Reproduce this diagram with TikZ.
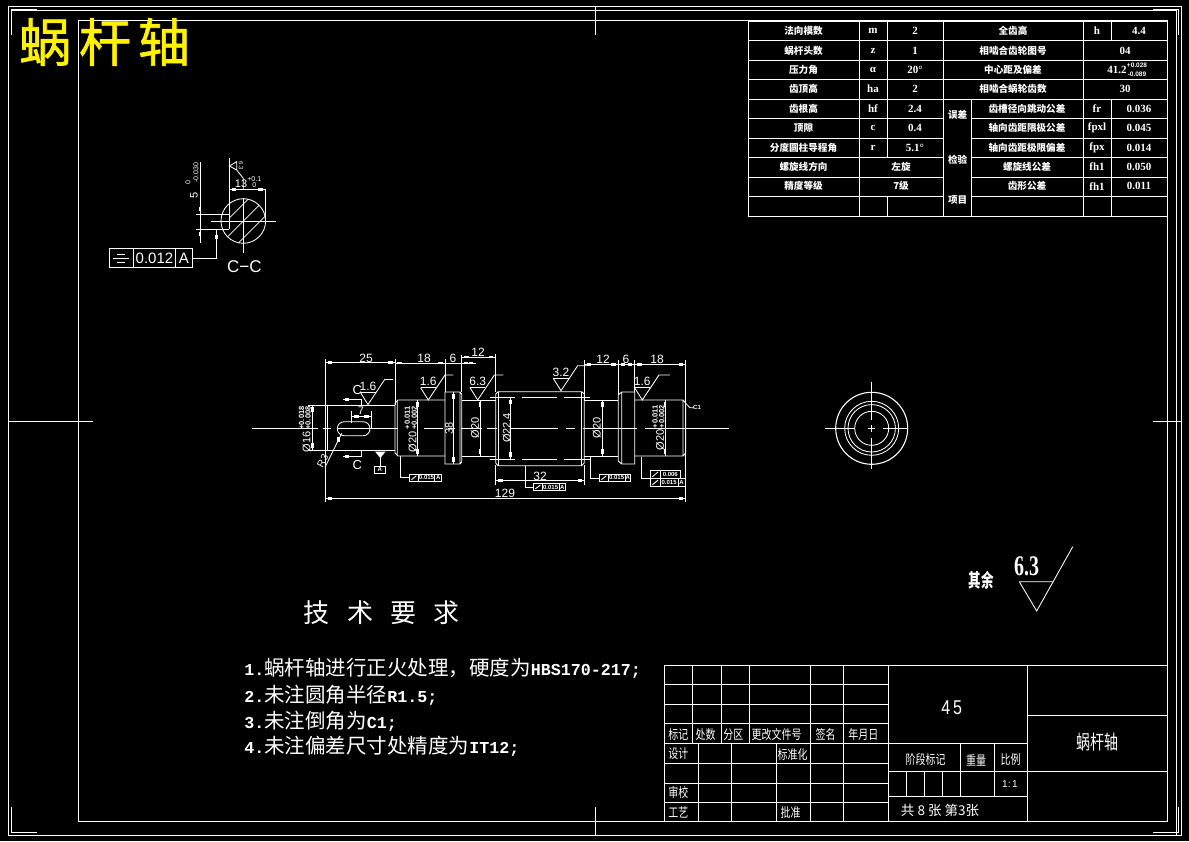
\documentclass[tikz,border=0pt]{standalone}
\usepackage{fontspec}
\usepackage{graphicx}
\setmainfont{Liberation Sans}
\newfontfamily\cj{Noto Sans CJK SC}
\newfontfamily\cjt[FakeBold=1.2]{Noto Sans CJK SC}
\newfontfamily\mono{Liberation Mono}
\newfontfamily\ser{Liberation Serif}
\newcount\tcnt
\newcommand\fs[1]{\fontsize{#1}{#1}\selectfont}
\newcommand\TX[4][]{\global\advance\tcnt by 1\relax\node[tx,#1] (t\the\tcnt) at (#2,#3) {#4};}
% table text, bold and small
\newcommand\TB[3]{\TX{#1}{#2}{\cj\bfseries\fs{9.6}#3}}
\newcommand\TL[3]{\TX{#1}{#2}{\ser\bfseries\fs{11}#3}}
% title block text, tall and narrow
\newcommand\TS[3]{\TX{#1}{#2}{\scalebox{1}[1.3]{\cj\fs{10}#3}}}
% horizontal and vertical dimension lines
\newcommand\Tk[2]{\fill[white] (#1-2.3,#2-1.3) rectangle (#1+2.3,#2+1.3);}
\newcommand\Tv[2]{\fill[white] (#1-1.3,#2-2.3) rectangle (#1+1.3,#2+2.3);}
\newcommand\DimH[3]{\draw[ln] (#1,#3) -- (#2,#3); \Tk{#1+4.7}{#3}\Tk{#2-4.7}{#3}}
\newcommand\DimV[3]{\draw[ln] (#1,#2) -- (#1,#3); \Tv{#1}{#2+4.7}\Tv{#1}{#3-4.7}}
% roughness symbol: apex x, apex y, text, flat length
\newcommand\Rgh[4]{\draw[ln] (#1-7.7,#2-12.3) -- (#1,#2) -- (#1+16.7,#2-25) -- ++(#4,0);
  \draw[ln] (#1-7.7,#2-12.3) -- (#1+7.7,#2-12.3);
  \TX{#1}{#2-18.6}{\fs{12}#3}}
% tolerance frame: x1,x2,y1,y2,cell1,cell2,value,datum
\newcommand\Fr[8]{\draw[ln] (#1,#3) rectangle (#2,#4) (#5,#3) -- (#5,#4);
  \draw[ln,line width=0.9pt] (#1+2,#4-1.5) -- (#5-2,#3+1.5);
  \TX{{(#5+#6)/2}}{{(#3+#4)/2}}{\bfseries\fs{6}#7}
  \draw[ln] (#6,#3) -- (#6,#4);
  \TX{{(#6+#2)/2}}{{(#3+#4)/2}}{\bfseries\fs{6}#8}}
\tikzset{tx/.style={inner sep=0pt,outer sep=0pt,text=white,anchor=center},
  ln/.style={draw=white,line width=0.85pt}}
\begin{document}
\begin{tikzpicture}[x=1pt,y=-1pt]
\fill[black] (0,0) rectangle (1189,841);
\useasboundingbox (0,0) rectangle (1189,841);
% frames
\draw[ln] (8.3,6) rectangle (1181.7,835.3);
\draw[ln] (11,10.3) -- (1176.3,10.3) -- (1176.3,835.3);
\draw[ln] (78.8,20.5) rectangle (1167.5,821.5);
\draw[ln] (595,6) -- (595,35) (595,807) -- (595,835.3) (8.3,421) -- (93,421) (1153,421) -- (1181.7,421);
\draw[ln] (11,35) -- (11,9.3) -- (37,9.3) (1153,9.3) -- (1178.7,9.3) -- (1178.7,35)
  (11,807) -- (11,832.3) -- (37,832.3) (1153,832.3) -- (1178.7,832.3) -- (1178.7,807);
% title
\TX{45}{42}{\cjt\fs{52}\textcolor{yellow}{蜗}}
\TX{105}{42}{\cjt\fs{52}\textcolor{yellow}{杆}}
\TX{164}{42}{\cjt\fs{52}\textcolor{yellow}{轴}}
% upper-right table
\draw[ln] (748.3,21) rectangle (1167.3,216);
\foreach \y in {40.5,60,79.5,99} \draw[ln] (748.3,\y) -- (1167.3,\y);
\foreach \y in {118.5,138,157.5,177,196.5} {\draw[ln] (748.3,\y) -- (943.7,\y); \draw[ln] (971,\y) -- (1167.3,\y);}
\draw[ln] (859.3,21) -- (859.3,216) (943.7,21) -- (943.7,216) (1083,21) -- (1083,216)
  (887,21) -- (887,157.5) (887,196.5) -- (887,216) (971,99) -- (971,216)
  (1111.7,21) -- (1111.7,40.5) (1111.7,99) -- (1111.7,216);
\TB{803.5}{30.7}{法向模数}\TB{803.5}{50.7}{蜗杆头数}\TB{803.5}{69.7}{压力角}\TB{803.5}{89}{齿顶高}
\TB{803.5}{108.7}{齿根高}\TB{803.5}{128}{顶隙}\TB{803.5}{148}{分度圆柱导程角}\TB{803.5}{167}{螺旋线方向}\TB{803.5}{186.3}{精度等级}
\TL{873}{30.7}{m}\TL{873}{50.7}{z}\TL{873}{69.7}{α}\TL{873}{89}{ha}\TL{873}{108.7}{hf}\TL{873}{128}{c}\TL{873}{148}{r}
\TL{915}{30.7}{2}\TL{915}{50.7}{1}\TL{915}{69.7}{20°}\TL{915}{89}{2}\TL{915}{108.7}{2.4}\TL{915}{128}{0.4}\TL{915}{148}{5.1°}
\TB{901}{167}{左旋}\TB{901}{186.3}{7级}
\TB{1013}{30.7}{全齿高}\TB{1013}{50.7}{相啮合齿轮图号}\TB{1013}{69.7}{中心距及偏差}\TB{1013}{89}{相啮合蜗轮齿数}
\TL{1097}{30.7}{h}\TL{1139}{30.7}{4.4}\TL{1125}{50.7}{04}\TL{1125}{89}{30}
\TL{1117}{69.7}{41.2}
\TX{1137}{65.5}{\bfseries\fs{6.5}+0.028}\TX{1137}{74}{\bfseries\fs{6.5}-0.089}
\TB{957.7}{114.7}{误差}\TB{957.7}{159.7}{检验}\TB{957.7}{199.7}{项目}
\TB{1027}{108.7}{齿槽径向跳动公差}\TB{1027}{128}{轴向齿距限极公差}\TB{1027}{148}{轴向齿距极限偏差}\TB{1027}{167}{螺旋线公差}\TB{1027}{186.3}{齿形公差}
\TL{1097}{108.7}{fr}\TL{1097}{128}{fpxl}\TL{1097}{148}{fpx}\TL{1097}{167}{fh1}\TL{1097}{186.3}{fh1}
\TL{1139}{108.7}{0.036}\TL{1139}{128}{0.045}\TL{1139}{148}{0.014}\TL{1139}{167}{0.050}\TL{1139}{186.3}{0.011}
% title block
\draw[ln] (664.3,665.3) rectangle (1167.3,821.5);
\foreach \y in {684.5,704.5,723.7,743.5,763.5,783,802.7} \draw[ln] (664.3,\y) -- (888.5,\y);
\draw[ln] (692.5,665.3) -- (692.5,743.5) (721,665.3) -- (721,743.5) (749,665.3) -- (749,743.5)
  (810.5,665.3) -- (810.5,821.5) (843,665.3) -- (843,821.5) (888.5,665.3) -- (888.5,821.5)
  (698.5,743.5) -- (698.5,821.5) (731.5,743.5) -- (731.5,821.5) (776.5,743.5) -- (776.5,821.5)
  (1027.3,665.3) -- (1027.3,821.5) (1027.3,715.3) -- (1167.3,715.3) (888.5,771.3) -- (1167.3,771.3)
  (888.5,743.3) -- (1027.3,743.3) (888.5,796.3) -- (1027.3,796.3)
  (960.5,743.3) -- (960.5,796.3) (994.5,743.3) -- (994.5,796.3)
  (906.5,771.3) -- (906.5,796.3) (924.5,771.3) -- (924.5,796.3) (942.5,771.3) -- (942.5,796.3);
\TS{678.3}{735}{标记}\TS{705.7}{735}{处数}\TS{733.3}{735}{分区}\TS{776.7}{735}{更改文件号}\TS{825.7}{735}{签名}\TS{863.3}{735}{年月日}
\TS{678.3}{753.3}{设计}\TS{792.7}{755}{标准化}\TS{678.3}{792.7}{审校}\TS{678.3}{812.7}{工艺}\TS{790.7}{812.7}{批准}
\TX{951.7}{707.3}{\scalebox{0.8}[1]{\fs{20}4\,5}}
\TS{925.7}{759.3}{阶段标记}\TS{976}{760}{重量}\TS{1010.7}{760}{比例}
\TX{1010}{784}{\fs{10}1:\,1}
\TX{940}{810.7}{\cj\fs{13.5}共 8 张 第3张}
\TX{1097.5}{741.7}{\scalebox{1}[1.4]{\cj\fs{14}蜗杆轴}}
% surplus roughness
\TX{981}{580}{\scalebox{1}[1.5]{\cj\bfseries\fs{12.5}其余}}
\TX{1026.7}{566.7}{\scalebox{0.95}[1.35]{\ser\bfseries\fs{21}6.3}}
\draw[ln] (1019.3,581.7) -- (1052.7,581.7) (1019.3,581.7) -- (1036.7,611) -- (1072.7,546.7);
% technical requirements
\TX{316}{613}{\cj\fs{26}技}\TX{360}{613}{\cj\fs{26}术}\TX{403.3}{613}{\cj\fs{26}要}\TX{446.7}{613}{\cj\fs{26}求}
\newcommand\Lm[1]{{\mono\bfseries\fs{16.67}#1}}
\newcommand\Cj[1]{{\cj\fs{20.5}#1}}
\TX[anchor=west]{244.3}{668}{\Lm{1.}\Cj{蜗杆轴进行正火处理，硬度为}\Lm{HBS170-217;}}
\TX[anchor=west]{244.3}{695}{\Lm{2.}\Cj{未注圆角半径}\Lm{R1.5;}}
\TX[anchor=west]{244.3}{721.7}{\Lm{3.}\Cj{未注倒角为}\Lm{C1;}}
\TX[anchor=west]{244.3}{746.7}{\Lm{4.}\Cj{未注偏差尺寸处精度为}\Lm{IT12;}}
% section C-C
\begin{scope}
\clip (243.3,221) circle (22.3);
\foreach \d in {-34,-17,0,17,34} \draw[ln,line width=0.7pt] (243.3+\d-28,221+28) -- (243.3+\d+28,221-28);
\fill[black] (205,214.3) rectangle (229.3,229);
\end{scope}
\draw[ln] (243.3,221) circle (22.3);
\draw[ln] (229.3,158) -- (229.3,229) (265,189) -- (265,220) (211,221) -- (275.7,221) (243.3,198) -- (243.3,253)
  (196,214.3) -- (229.3,214.3) (196,229) -- (229.3,229) (200,161.7) -- (200,243.3);
\Tv{200}{209}\Tv{200}{234}
\DimH{229.3}{265}{189.3}
\TX{241}{184}{\fs{11}13}\TX{254.3}{179}{\fs{7}+0.1}\TX{254.3}{185.5}{\fs{7}0}
\TX[rotate=90]{194}{195}{\fs{11}5}\TX[rotate=90]{188}{183}{\fs{7}0}\TX[rotate=90]{196}{173}{\fs{7}-0.030}
\draw[ln] (229.3,166) -- (236.7,161.7) -- (236.7,170) -- cycle (236.7,170) -- (243.3,178.3) -- (243.3,189.3);
\TX[rotate=-90]{241}{166}{\fs{6}6.3}
\draw[ln] (216.7,230) -- (216.7,258.3) -- (192.7,258.3);
\Tv{216.7}{237}
\draw[ln] (109.3,248.7) rectangle (192.7,267.3) (133.3,248.7) -- (133.3,267.3) (175.7,248.7) -- (175.7,267.3);
\draw[ln] (117,254) -- (125,254) (112.7,258) -- (129.3,258) (117,262.5) -- (125,262.5);
\TX{154.5}{258}{\fs{15}0.012}\TX{184}{258}{\fs{15}A}
\TX{244.3}{266.7}{\fs{17}C−C}
% shaft outline
\draw[ln] (325.3,405) -- (395,405) (325.3,450.3) -- (395,450.3) (327,405) -- (327,450.3);
\draw[ln] (395,403) -- (398,400) -- (445,400) (395,453) -- (398,456) -- (445,456) (395,403) -- (395,453) (397.3,401) -- (397.3,455);
\draw[ln] (445,392) rectangle (460,464) (460,392) -- (461.7,394) -- (461.7,462) -- (460,464);
\draw[ln] (461.7,400) -- (495.7,400) (461.7,456) -- (495.7,456);
\draw[ln] (495.7,394) -- (498,391.7) -- (581.7,391.7) -- (584.3,394) -- (584.3,463) -- (581.7,465.7) -- (498,465.7) -- (495.7,463) -- cycle;
\draw[ln] (498,391.7) -- (498,465.7) (581.7,391.7) -- (581.7,465.7);
\draw[ln] (490,397.3) -- (515,397.3) (522,397.3) -- (557,397.3) (564,397.3) -- (590,397.3)
  (490,459.3) -- (515,459.3) (522,459.3) -- (557,459.3) (564,459.3) -- (590,459.3);
\draw[ln] (584.3,400) -- (618.3,400) (584.3,456) -- (618.3,456);
\draw[ln] (618.3,395) -- (621.7,392) -- (634.7,392) -- (634.7,464) -- (621.7,464) -- (618.3,461) -- cycle (621.7,392) -- (621.7,464);
\draw[ln] (634.7,400) -- (683,400) -- (685.7,403) -- (685.7,453) -- (683,456) -- (634.7,456) (683,400) -- (683,456);
% centre line
\foreach \a/\b in {252/318,323/331,337/398,424/443,448/455,461/482,487/497,511/558,566/575,583/637,645/729}
  \draw[ln] (\a,428.3) -- (\b,428.3);
% keyway
\draw[ln,rounded corners=6.9pt] (337.3,421.7) rectangle (370,435.7);
\DimH{351.7}{371}{416.3}
\draw[ln] (351.7,411) -- (351.7,423) (371,411) -- (371,428);
\TX{361}{410.5}{\fs{11}7}
\draw[ln] (341.7,433.3) -- (325,467.3);
\Tv{338.7}{439.3}
\TX[rotate=62]{322.7}{461}{\fs{10}R3}
% section marks
\draw[ln] (343.3,399.3) -- (361,399.3) -- (361,405) (343.3,456.3) -- (361,456.3) -- (361,450.3);
\Tk{347}{399.3}\Tk{347}{456.3}
\TX{357.3}{390}{\fs{13}C}\TX{357.3}{465}{\fs{13}C}
% datum
\fill[white] (375,451.5) -- (385.7,451.5) -- (380.3,458) -- cycle;
\draw[ln] (380.3,451.5) -- (380.3,466);
\draw[ln] (374.3,466) rectangle (385,473.3);
\TX{379.7}{469.7}{\bfseries\fs{6}A}
% extension lines
\draw[ln] (325.3,359) -- (325.3,502) (395,359) -- (395,405) (445,359) -- (445,392) (461.7,355) -- (461.7,392) (495.7,354) -- (495.7,392)
  (308.3,405) -- (325.3,405) (308.3,450.3) -- (325.3,450.3)
  (584.3,360) -- (584.3,400) (618.3,360) -- (618.3,395) (634.7,360) -- (634.7,392) (685.7,360) -- (685.7,502)
  (495.7,465) -- (495.7,485) (584.3,465) -- (584.3,485);
% dimensions
\DimH{325.3}{395}{362.7}\DimH{395}{445}{363}
\draw[ln] (445,363) -- (476,363); \Tk{440}{363}\Tk{466}{363}\Tk{471}{363}
\DimH{461.7}{495.7}{357}
\DimH{584.3}{618.3}{364.3}\DimH{618.3}{634.7}{364.3}\DimH{634.7}{685.7}{364.3}
\DimH{495.7}{584.5}{480.7}\DimH{325.3}{685.7}{498.3}
\TX{366}{358}{\fs{12}25}\TX{424}{358}{\fs{12}18}\TX{453}{358}{\fs{12}6}\TX{478}{352}{\fs{12}12}
\TX{603}{359}{\fs{12}12}\TX{626}{359}{\fs{12}6}\TX{657}{359}{\fs{12}18}
\TX{540}{476}{\fs{12}32}\TX{505}{493}{\fs{12}129}
\DimV{312.7}{405}{450.3}\DimV{417.3}{400}{456}\DimV{453.3}{392}{464}\DimV{480}{400}{456}\DimV{510.7}{397.3}{459.3}\DimV{602.3}{400}{456}\DimV{665}{400}{456}
\TX[rotate=90]{306.7}{442}{\fs{11}Ø16}\TX[rotate=90]{301.5}{418}{\bfseries\fs{7.5}+0.018}\TX[rotate=90]{308}{418}{\bfseries\fs{7.5}+0.008}
\TX[rotate=90]{412.7}{442}{\fs{11}Ø20}\TX[rotate=90]{407.3}{418}{\bfseries\fs{7.5}+0.011}\TX[rotate=90]{414.3}{418}{\bfseries\fs{7.5}+0.002}
\TX[rotate=90]{660}{440}{\fs{11}Ø20}\TX[rotate=90]{655}{416.7}{\bfseries\fs{7.5}+0.011}\TX[rotate=90]{661.7}{416.7}{\bfseries\fs{7.5}+0.002}
\TX[rotate=90]{449}{428}{\fs{11}38}
\TX[rotate=90]{475}{428}{\fs{11}Ø20}\TX[rotate=90]{506.7}{428}{\fs{11}Ø22.4}\TX[rotate=90]{596.7}{428}{\fs{11}Ø20}
% roughness
\Rgh{368}{404.5}{1.6}{8.3}\Rgh{428.3}{400}{1.6}{8.3}\Rgh{477.7}{400}{6.3}{9}\Rgh{561}{390.7}{3.2}{9.5}\Rgh{642.3}{400}{1.6}{11}
% chamfer leader
\draw[ln] (685.7,403.3) -- (690,407.7) -- (694,407.7);
\TX{697}{407}{\bfseries\fs{6}C1}
% geometric tolerance
\draw[ln] (400.7,456.3) -- (400.7,477.7) -- (409.3,477.7);
\Fr{409.3}{441.7}{474.3}{481.3}{418.3}{434.7}{0.015}{A}
\draw[ln] (525,465.7) -- (525,487) -- (533.3,487);
\Fr{533.3}{565.7}{483.7}{490.3}{542.3}{559}{0.015}{A}
\draw[ln] (590.7,456.7) -- (590.7,478) -- (599.3,478);
\Fr{599.3}{630.7}{474.3}{481.3}{608.3}{625}{0.015}{A}
\draw[ln] (641.7,456.7) -- (641.7,478.3) -- (650.3,478.3);
\draw[ln] (650.3,470.7) rectangle (680.7,478) (660,470.7) -- (660,478);
\draw[ln] (652,477) -- (658,472);
\TX{670.3}{474.3}{\bfseries\fs{6}0.006}
\Fr{650.3}{685}{478.7}{486.3}{660}{678.3}{0.015}{A}
% end view
\draw[ln,line width=1.1pt] (871.7,428.3) circle (36);
\draw[ln] (871.7,428.3) circle (27) (871.7,428.3) circle (23.7) (871.7,428.3) circle (17);
\draw[ln] (825,428.3) -- (855,428.3) (868,428.3) -- (875,428.3) (883,428.3) -- (907,428.3)
  (871.7,381.7) -- (871.7,420) (871.7,425) -- (871.7,431.7) (871.7,438) -- (871.7,469);
\end{tikzpicture}
\end{document}
